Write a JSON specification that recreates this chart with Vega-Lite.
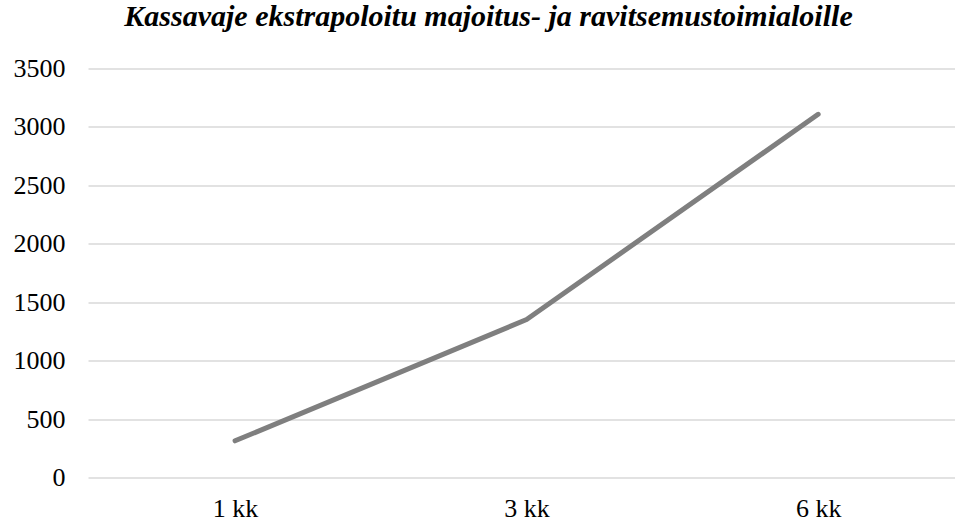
{
  "$schema": "https://vega.github.io/schema/vega-lite/v6.json",
  "width": 867,
  "height": 409,
  "autosize": {"type": "none"},
  "padding": {"left": 88, "top": 68.5, "right": 0, "bottom": 44.5},
  "background": "white",
  "title": {
    "text": "Kassavaje ekstrapoloitu majoitus- ja ravitsemustoimialoille",
    "font": "Liberation Serif",
    "fontSize": 30,
    "fontWeight": "bold",
    "fontStyle": "italic",
    "color": "#000000",
    "anchor": "middle",
    "dx": -33,
    "offset": 24
  },
  "data": {
    "values": [
      {"period": "1 kk", "value": 314},
      {"period": "3 kk", "value": 1352},
      {"period": "6 kk", "value": 3108}
    ]
  },
  "mark": {"type": "line", "color": "#7f7f7f", "strokeWidth": 5, "strokeCap": "round", "strokeJoin": "round"},
  "encoding": {
    "x": {
      "field": "period",
      "type": "ordinal",
      "sort": null,
      "scale": {"type": "point", "padding": 0.487, "align": 0.518},
      "axis": {
        "title": null,
        "labelAngle": 0,
        "labelFont": "Liberation Serif",
        "labelFontSize": 26,
        "labelColor": "#000000",
        "labelPadding": 18,
        "domain": false,
        "ticks": false,
        "grid": false
      }
    },
    "y": {
      "field": "value",
      "type": "quantitative",
      "scale": {"domain": [0, 3500], "nice": false},
      "axis": {
        "title": null,
        "format": "d",
        "values": [0, 500, 1000, 1500, 2000, 2500, 3000, 3500],
        "labelFont": "Liberation Serif",
        "labelFontSize": 26,
        "labelColor": "#000000",
        "labelPadding": 23,
        "domain": false,
        "ticks": false,
        "grid": true,
        "gridColor": "#d9d9d9",
        "gridWidth": 1.3
      }
    }
  },
  "config": {"view": {"stroke": null}}
}
